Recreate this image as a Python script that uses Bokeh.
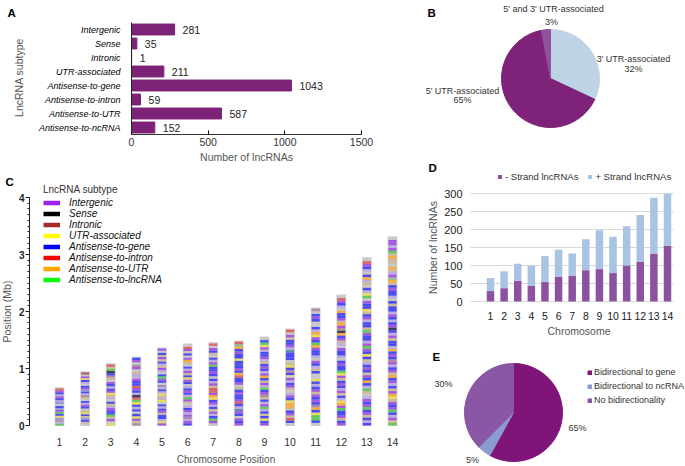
import numpy as np
from bokeh.plotting import figure
from bokeh.models import (Range1d, Label, Legend, LegendItem, ColumnDataSource, FixedTicker,
                          LinearAxis)
from bokeh.embed import file_html
from bokeh.resources import INLINE
from bokeh.core.properties import value

FONT = "Liberation Sans"

# ---------------- data ----------------
# Panel A
subtypes = ["Intergenic", "Sense", "Intronic", "UTR-associated", "Antisense-to-gene",
            "Antisense-to-intron", "Antisense-to-UTR", "Antisense-to-ncRNA"]
subtype_counts = [281, 35, 1, 211, 1043, 59, 587, 152]
count_ticks = [0, 500, 1000, 1500]

# Panel B (clockwise from 12 o'clock)
utr_labels = ["3' UTR-associated", "5' UTR-associated", "5' and 3' UTR-associated"]
utr_pct = [32, 65, 3]

# Panel C
chrom_numbers = list(range(1, 15))
chrom_len_mb = [0.65, 0.93, 1.07, 1.19, 1.35, 1.42, 1.44, 1.47, 1.54, 1.68, 2.05, 2.28, 2.93, 3.30]
mb_ticks = [0, 1, 2, 3, 4]
c_legend_labels = ["Intergenic", "Sense", "Intronic", "UTR-associated", "Antisense-to-gene",
                   "Antisense-to-intron", "Antisense-to-UTR", "Antisense-to-lncRNA"]
# band codes read top -> bottom for each chromosome
chrom_bands = [
    "RPBpPBpb.BbPGBYbMpG",
    "N.PYBp.BPbBpMo.BpPB.oYBobBo.",
    "RoGKBMo.PBpBPYop.BopPBBGoP.Y",
    "BP.MP.oppPBBRPBpKRGYBpB.BYPoM",
    "P.BoPoBpoPp.BGPB.MpBpYopY.BpBPoBBpYP",
    ".RP.B.POo.BpPoBYPB.pBPBpGPo.pBPpPMpPB",
    "R.PBo.BpPGBBPB.BpPoRRPOYBPpBoPpBGP.",
    "RgOBPBBYBBBPBORBBP.oBPBBPRBpTPB.PBP",
    ".BGYPpBBPpoBPBpPOBoPpGBPMoBpPGpBoBYBP",
    "R.PoBBPpTBBB.oYBMByPpBPo.pPBYOOoBPoRB.",
    "M.BPB..BpOYPBGOPBBp.PBpoB..YBpBPoPBPBMOBYGGB.",
    ".RPBp.OBBPoOPMKOBPop.PBBp.BPBBGYPoBPBpPoBpYOPGBBPoBP",
    ".RPBp.BOpo.BpYG.PBBYoBPpBBoGPBBpPGPBYBopBPBoPBOBpGo.pPBPGBPoBpB",
    ".PPpPGoOoo.OopPgOoBPBBp.BoBBpPBpBPKBpPoBBpOBPBMPpBPoOBPpBoPOYoPBPGBpPoG",
]

# Panel D
minus_strand = [29, 37, 58, 44, 54, 69, 72, 87, 90, 79, 100, 111, 133, 155]
plus_strand = [36, 47, 47, 55, 72, 75, 61, 86, 108, 101, 109, 129, 155, 144]
strand_labels = ["- Strand lncRNAs", "+ Strand lncRNAs"]
lnc_ticks = [0, 50, 100, 150, 200, 250, 300]

# Panel E (clockwise from 12 o'clock)
bidir_labels = ["Bidirectional to gene", "Bidirectional to ncRNA", "No bidirectionality"]
bidir_share = [58, 4.5, 37.5]
bidir_pct_text = ["65%", "5%", "30%"]

# ---------------- styles ----------------
BAR_A = "#7c2378"
PIE_B = ["#bfd3e6", "#7f2279", "#8e519b"]
C_LEG = ["#a020f0", "#000000", "#a52a2a", "#ffff00", "#0000ff", "#ff0000", "#ffa500", "#00ff00"]
BAND_COL = {"B": "#2a2aff", "b": "#8a8ae6", "P": "#9a3ae6", "p": "#b9a3e3", "o": "#cdb389",
            "O": "#ffa31a", "Y": "#f0e040", "G": "#3ccc3c", "g": "#8fae8f", "R": "#e04848",
            "N": "#a0403c", "M": "#a57b9a", "K": "#1a1a3a", "T": "#3f7f9f", ".": "#c6c6c6",
            "y": "#e0d88f"}
D_COL = ["#8b529f", "#a9c3e2"]
PIE_E = ["#801579", "#8a9bd0", "#8957a4"]
GREY_T = "#555555"

# ---------------- canvas & coordinate helpers ----------------
W, H = 685, 466
p = figure(width=W, height=H, x_range=Range1d(0, W), y_range=Range1d(0, H),
           x_axis_location=None, y_axis_location=None, min_border=0,
           output_backend="svg", toolbar_location=None)
p.grid.visible = False
p.outline_line_color = None
p.background_fill_color = "white"
p.border_fill_color = "white"


def xr(d0, c0, d1, c1):
    s = (d1 - d0) / (c1 - c0)
    start = d0 - c0 * s
    return Range1d(start, start + W * s)


def yr(d0, c0, d1, c1):
    s = (d1 - d0) / (c0 - c1)
    start = d0 - (H - c0) * s
    return Range1d(start, start + H * s)


def at_x(rng, c):
    return rng.start + c * (rng.end - rng.start) / W


def lab(cx, cy, text, size="9px", color="#333333", align="center", baseline="middle",
        style="normal", angle=0.0):
    p.add_layout(Label(x=cx, y=H - cy, text=text, text_font=FONT, text_font_size=size,
                       text_color=color, text_align=align, text_baseline=baseline,
                       text_font_style=style, angle=angle))


def letter(cx, cy, t):
    lab(cx, cy, t, size="11.5px", color="black", align="left", baseline="alphabetic",
        style="bold")


def style_axis(ax, size="10.5px", color="#333333", standoff=3):
    ax.major_label_text_font = FONT
    ax.major_label_text_font_size = size
    ax.major_label_text_color = color
    ax.major_label_standoff = standoff
    ax.axis_label_text_font = FONT
    ax.axis_label_text_font_size = "10.5px"
    ax.axis_label_text_font_style = "normal"
    ax.axis_label_text_color = GREY_T
    ax.minor_tick_line_color = None


def pie_angles(vals):
    vals = np.array(vals, dtype=float)
    frac = vals / vals.sum()
    c1 = np.cumsum(frac)
    c0 = c1 - frac
    return list(np.pi / 2 - 2 * np.pi * c1), list(np.pi / 2 - 2 * np.pi * c0)


ranges_x = {
    "ax": xr(0, 131, 1500, 361),
    "bx": xr(0, 550, 1, 551),
    "cx": xr(1, 59, 14, 392),
    "dx": xr(1, 490, 14, 667),
    "ex": xr(0, 513, 1, 514),
}
ranges_y = {
    "ay": yr(len(subtypes) - 1, 29, 0, 127),
    "by": yr(0, 78, 1, 77),
    "cy": yr(0, 425, 4, 197),
    "dy": yr(0, 301, 300, 193),
    "ey": yr(0, 412, 1, 411),
}
p.extra_x_ranges = ranges_x
p.extra_y_ranges = ranges_y

# ---------------- Panel A ----------------
RA = dict(x_range_name="ax", y_range_name="ay")
ypos = [len(subtypes) - 1 - i for i in range(len(subtypes))]
srcA = ColumnDataSource(dict(y=ypos, n=subtype_counts, lab=[str(v) for v in subtype_counts],
                             name=subtypes, zero=[0] * len(subtypes)))
p.hbar(y="y", left="zero", right="n", height=0.78, fill_color=BAR_A, line_color=BAR_A,
       source=srcA, **RA)
p.text(x="n", y="y", text="lab", x_offset=8, text_baseline="middle", text_font=value(FONT),
       text_font_size="10.5px", text_color="#222222", source=srcA, **RA)
p.text(x="zero", y="y", text="name", x_offset=-11, text_align="right", text_baseline="middle",
       text_font=value(FONT), text_font_size="9px", text_font_style="italic",
       text_color="#000000", source=srcA, **RA)
axA = LinearAxis(fixed_location=-0.5, bounds=(0, 1500), ticker=FixedTicker(ticks=count_ticks),
                 axis_label="Number of lncRNAs", axis_label_standoff=2, **RA)
style_axis(axA, standoff=3)
axA.major_tick_in = 4
axA.major_tick_out = 0
axA.axis_line_color = "#333333"
p.add_layout(axA, "below")
ayA = LinearAxis(fixed_location=0, bounds=(-0.5, len(subtypes) - 0.5),
                 ticker=FixedTicker(ticks=[]), **RA)
ayA.axis_line_color = "#222222"
ayA.major_tick_line_color = None
ayA.minor_tick_line_color = None
p.add_layout(ayA, "left")
lab(18, 77, "LncRNA subtype", size="10.5px", color=GREY_T, angle=np.pi / 2)
letter(7, 12, "A")

# ---------------- Panel B ----------------
sB, eB = pie_angles(utr_pct)
srcB = ColumnDataSource(dict(s=sB, e=eB, c=PIE_B))
p.wedge(x=0, y=0, radius=49, start_angle="s", end_angle="e", fill_color="c", line_color="c",
        source=srcB, x_range_name="bx", y_range_name="by")
lab(553, 8, utr_labels[2])
lab(551, 21, f"{utr_pct[2]}%")
lab(633, 58, utr_labels[0])
lab(633, 68, f"{utr_pct[0]}%")
lab(462, 90, utr_labels[1])
lab(462, 99, f"{utr_pct[1]}%")
letter(427, 12, "B")

# ---------------- Panel C ----------------
RC = dict(x_range_name="cx", y_range_name="cy")
bg = dict(l=[], r=[], b=[], t=[])
st = dict(l=[], r=[], b=[], t=[], c=[])
for xnum, L, bands in zip(chrom_numbers, chrom_len_mb, chrom_bands):
    bg["l"].append(xnum - 0.19)
    bg["r"].append(xnum + 0.19)
    bg["b"].append(-0.01)
    bg["t"].append(L + 0.02)
    seq = bands[::-1]
    h = L / len(seq)
    for j, ch in enumerate(seq):
        st["l"].append(xnum - 0.16)
        st["r"].append(xnum + 0.16)
        st["b"].append(j * h)
        st["t"].append((j + 1) * h)
        st["c"].append(BAND_COL[ch])
p.quad(left="l", right="r", bottom="b", top="t", fill_color="#cfcfcf", line_color=None,
       source=ColumnDataSource(bg), **RC)
p.quad(left="l", right="r", bottom="b", top="t", fill_color="c", line_color=None,
       fill_alpha=0.8, source=ColumnDataSource(st), **RC)

itemsC = []
for name, col in zip(c_legend_labels, C_LEG):
    r = p.line(x=[np.nan, np.nan], y=[np.nan, np.nan], line_color=col, line_width=4.5, **RC)
    itemsC.append(LegendItem(label=name, renderers=[r]))
legC = Legend(items=itemsC, location=(43, 181), title="LncRNA subtype",
              title_text_font=FONT, title_text_font_size="10px", title_text_font_style="normal",
              title_text_color="#333333", title_standoff=2,
              label_text_font=FONT, label_text_font_size="10px", label_text_font_style="italic",
              label_text_color="#111111", label_height=11, glyph_height=11, glyph_width=17,
              label_standoff=9, spacing=0, padding=0, margin=0,
              border_line_color=None, background_fill_alpha=0)
p.add_layout(legC)

axC = LinearAxis(fixed_location=0, bounds=(0.5, 14.5), ticker=FixedTicker(ticks=chrom_numbers),
                 axis_label="Chromosome Position", axis_label_standoff=5, **RC)
style_axis(axC, standoff=6)
axC.axis_label_text_font_size = "10px"
axC.axis_line_color = None
axC.major_tick_line_color = None
p.add_layout(axC, "below")
ayC = LinearAxis(fixed_location=at_x(ranges_x["cx"], 29), bounds=(0, 4),
                 ticker=FixedTicker(ticks=mb_ticks, minor_ticks=[k / 10 for k in range(41)]),
                 axis_label="Position (Mb)", axis_label_standoff=3, **RC)
style_axis(ayC, size="10px", color="#222222", standoff=1)
ayC.major_label_text_font_style = "bold"
ayC.axis_line_color = "#222222"
ayC.major_tick_out = 4
ayC.major_tick_in = 0
ayC.minor_tick_out = 2
ayC.minor_tick_in = 0
ayC.major_tick_line_color = "#222222"
ayC.minor_tick_line_color = "#222222"
p.add_layout(ayC, "left")
letter(5, 181, "C")

# ---------------- Panel D ----------------
RD = dict(x_range_name="dx", y_range_name="dy")
gx0 = at_x(ranges_x["dx"], 470)
gx1 = at_x(ranges_x["dx"], 673)
p.segment(x0=[gx0] * len(lnc_ticks), x1=[gx1] * len(lnc_ticks), y0=lnc_ticks, y1=lnc_ticks,
          line_color="#d9d9d9", line_width=1, **RD)
srcD = ColumnDataSource(dict(x=chrom_numbers, minus=minus_strand, plus=plus_strand))
p.vbar_stack(["minus", "plus"], x="x", width=0.55, fill_color=D_COL, line_color=None,
             source=srcD, **RD)
axD = LinearAxis(fixed_location=0, bounds=(0.5, 14.5), ticker=FixedTicker(ticks=chrom_numbers),
                 axis_label="Chromosome", axis_label_standoff=2, **RD)
style_axis(axD, color="#222222", standoff=4)
axD.axis_line_color = None
axD.major_tick_line_color = None
p.add_layout(axD, "below")
ayD = LinearAxis(fixed_location=gx0, bounds=(0, 300), ticker=FixedTicker(ticks=lnc_ticks),
                 axis_label="Number of lncRNAs", axis_label_standoff=2, **RD)
style_axis(ayD, size="11px", color="#222222", standoff=2)
ayD.axis_line_color = None
ayD.major_tick_line_color = None
p.add_layout(ayD, "left")
dummy = [p.vbar(x=[np.nan], top=[np.nan], width=0.5, fill_color=c, line_color=None, **RD)
         for c in D_COL]
legD = Legend(items=[LegendItem(label=strand_labels[i], renderers=[dummy[i]]) for i in range(2)],
              location=(497, 284), orientation="horizontal",
              label_text_font=FONT, label_text_font_size="9.5px", label_text_color="#333333",
              glyph_width=5, glyph_height=5, label_height=12, label_standoff=3, spacing=9,
              padding=0, margin=0, border_line_color=None, background_fill_alpha=0)
p.add_layout(legD)
letter(428, 167, "D")

# ---------------- Panel E ----------------
sE, eE = pie_angles(bidir_share)
srcE = ColumnDataSource(dict(s=sE, e=eE, c=PIE_E))
rE = p.wedge(x=0, y=0, radius=49, start_angle="s", end_angle="e", fill_color="c",
             line_color="c", source=srcE, x_range_name="ex", y_range_name="ey")
legE = Legend(items=[LegendItem(label=bidir_labels[i], renderers=[rE], index=i) for i in range(3)],
              location=(587, 59),
              label_text_font=FONT, label_text_font_size="9px", label_text_color="#333333",
              glyph_width=5, glyph_height=5, label_height=14, label_standoff=2, spacing=0,
              padding=0, margin=0, border_line_color=None, background_fill_alpha=0)
p.add_layout(legE)
lab(443, 383, bidir_pct_text[2])
lab(577, 427, bidir_pct_text[0])
lab(472, 459, bidir_pct_text[1])
letter(432, 356, "E")

open("out.html", "w").write(file_html(p, INLINE))
